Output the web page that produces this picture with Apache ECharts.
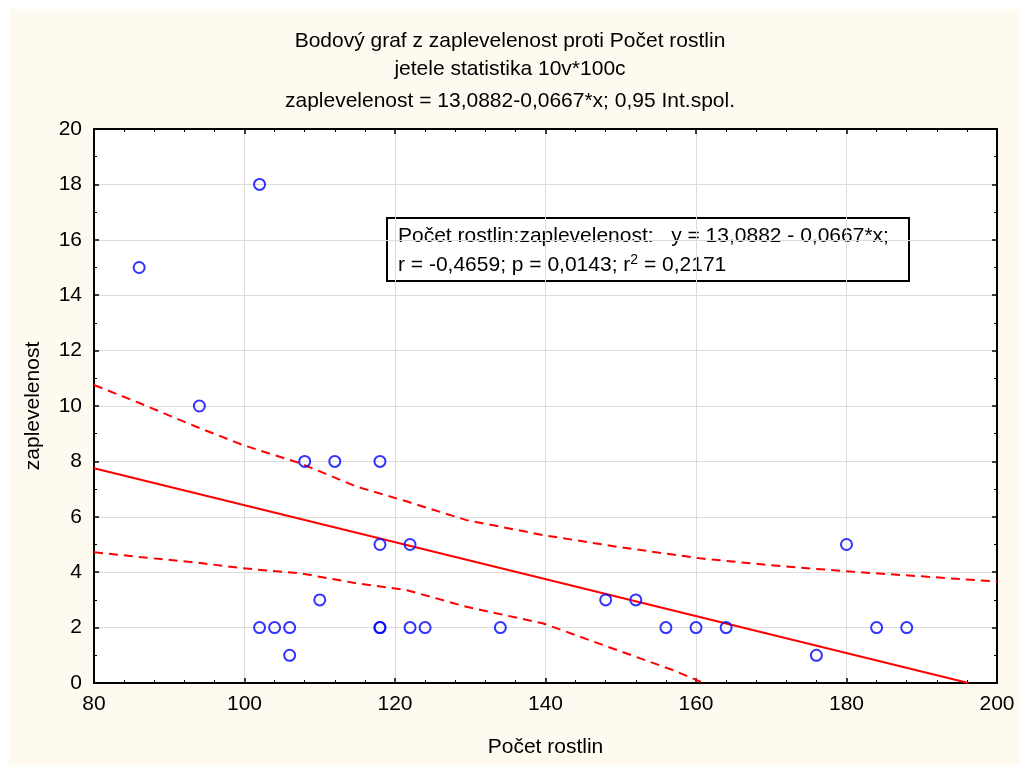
<!DOCTYPE html>
<html>
<head>
<meta charset="utf-8">
<script src="https://cdn.jsdelivr.net/npm/echarts@6/dist/echarts.min.js"></script>
<style>
html,body{margin:0;padding:0;background:#fff;}
#main{width:1020px;height:765px;background:linear-gradient(#fffaf0,#fffaf0) 9px 9px / 100% 100% no-repeat, #ffffff;}
</style>
</head>
<body>
<div id="main"></div>
<script>
// ---- data ----
var titleLines = [
  'Bodový graf z zaplevelenost proti Počet rostlin',
  'jetele statistika 10v*100c',
  'zaplevelenost = 13,0882-0,0667*x; 0,95 Int.spol.'
];
var xName = 'Počet rostlin';
var yName = 'zaplevelenost';
var annotLine1 = 'Počet rostlin:zaplevelenost:   y = 13,0882 - 0,0667*x;';
var annotLine2 = ['r = -0,4659; p = 0,0143; r', '2', ' = 0,2171'];

var pocetRostlin = [86, 102, 94, 108, 112, 118, 118, 122, 102, 104, 106, 106, 110, 118, 118, 122, 124, 134, 148, 152, 156, 160, 164, 176, 180, 184, 188];
var zaplevelenost = [15, 18, 10, 8, 8, 8, 5, 5, 2, 2, 2, 1, 3, 2, 2, 2, 2, 2, 3, 3, 2, 2, 2, 1, 5, 2, 2];

var regX = [80, 196.2];
var regY = [7.75, 0];

var upperX = [80, 86.1, 93.6, 99.8, 107.4, 114.9, 121.6, 129.5, 139.7, 149.5, 160.5, 170, 179.6, 190, 200];
var upperY = [10.76, 10.1, 9.25, 8.59, 7.93, 7.09, 6.55, 5.88, 5.34, 4.92, 4.5, 4.25, 4.04, 3.85, 3.66];

var lowerX = [80, 86, 93.6, 99.8, 107.4, 114.9, 121.6, 129.5, 139.7, 149.5, 156.9, 161];
var lowerY = [4.72, 4.55, 4.35, 4.14, 3.96, 3.6, 3.35, 2.75, 2.15, 1.19, 0.47, 0];

var xTicks = {min: 80, max: 200, step: 20};
var yTicks = {min: 0, max: 20, step: 2};

function zip(a, b) { return a.map(function (v, i) { return [v, b[i]]; }); }

var FONT = '"Liberation Sans", Arial, sans-serif';
var FS = 21;
var chart = echarts.init(document.getElementById('main'));

var baseAxis = {
  type: 'value',
  axisLine: {show: true, onZero: false, lineStyle: {color: '#000', width: 2}},
  axisTick: {show: true, inside: true, length: 5, lineStyle: {color: '#000', width: 1.5}},
  minorTick: {show: true, length: 3, lineStyle: {color: '#000', width: 1}},
  splitLine: {show: false}
};

var titleStyle = {fontFamily: FONT, fontSize: FS, fontWeight: 'normal', color: '#000'};

var option = {
  animation: false,
  title: [
    {text: titleLines[0], left: 'center', top: 26, textStyle: titleStyle},
    {text: titleLines[1], left: 'center', top: 54, textStyle: titleStyle},
    {text: titleLines[2], left: 'center', top: 86, textStyle: titleStyle}
  ],
  grid: {left: 94, right: 23, top: 129, bottom: 82, show: true, backgroundColor: '#ffffff', borderColor: '#000', borderWidth: 2},
  xAxis: [
    Object.assign({}, baseAxis, {
      min: xTicks.min, max: xTicks.max, interval: xTicks.step, position: 'bottom',
      minorTick: Object.assign({}, baseAxis.minorTick, {splitNumber: 5}),
      splitLine: {show: true, lineStyle: {color: '#dcdcdc', width: 1}},
      axisLabel: {fontFamily: FONT, fontSize: FS, color: '#000', margin: 11},
      name: xName, nameLocation: 'middle', nameGap: 54,
      nameTextStyle: {fontFamily: FONT, fontSize: FS, color: '#000'}
    }),
    Object.assign({}, baseAxis, {
      min: xTicks.min, max: xTicks.max, interval: xTicks.step, position: 'top',
      minorTick: Object.assign({}, baseAxis.minorTick, {splitNumber: 5}),
      axisLabel: {show: false}
    })
  ],
  yAxis: [
    Object.assign({}, baseAxis, {
      min: yTicks.min, max: yTicks.max, interval: yTicks.step, position: 'left',
      minorTick: Object.assign({}, baseAxis.minorTick, {splitNumber: 2}),
      splitLine: {show: true, lineStyle: {color: '#dcdcdc', width: 1}},
      axisLabel: {fontFamily: FONT, fontSize: FS, color: '#000', margin: 12},
      name: yName, nameLocation: 'middle', nameGap: 50, nameRotate: 90,
      nameTextStyle: {fontFamily: FONT, fontSize: FS, color: '#000'}
    }),
    Object.assign({}, baseAxis, {
      min: yTicks.min, max: yTicks.max, interval: yTicks.step, position: 'right',
      minorTick: Object.assign({}, baseAxis.minorTick, {splitNumber: 2}),
      axisLabel: {show: false}
    })
  ],
  series: [
    {
      type: 'line', data: zip(upperX, upperY), showSymbol: false, symbol: 'none', smooth: false,
      lineStyle: {color: '#ff0000', width: 2, type: [9, 6]}, z: 2
    },
    {
      type: 'line', data: zip(lowerX, lowerY), showSymbol: false, symbol: 'none',
      lineStyle: {color: '#ff0000', width: 2, type: [9, 6]}, z: 2
    },
    {
      type: 'line', data: zip(regX, regY), showSymbol: false, symbol: 'none',
      lineStyle: {color: '#ff0000', width: 2}, z: 3
    },
    {
      type: 'scatter', data: zip(pocetRostlin, zaplevelenost), symbol: 'circle', symbolSize: 11,
      itemStyle: {color: 'rgba(255,255,255,0)', borderColor: '#0000ff', borderWidth: 2}, z: 4
    }
  ],
  graphic: [
    {
      type: 'group', left: 386, top: 217, z: 100,
      children: [
        {type: 'rect', shape: {x: 0, y: 0, width: 522, height: 63}, style: {fill: '#ffffff', stroke: '#000', lineWidth: 2}},
        {type: 'text', x: 11, y: 18, style: {text: annotLine1, font: FS + 'px ' + FONT, fill: '#000', verticalAlign: 'middle'}},
        {type: 'text', x: 11, y: 47, style: {
          text: '{a|' + annotLine2[0] + '}{s|' + annotLine2[1] + '}{a|' + annotLine2[2] + '}',
          verticalAlign: 'middle',
          rich: {
            a: {fontFamily: FONT, fontSize: FS, fill: '#000', color: '#000'},
            s: {fontFamily: FONT, fontSize: 14, fill: '#000', color: '#000', verticalAlign: 'top', padding: [0, 0, 9, 0]}
          }
        }}
      ]
    }
  ]
};
chart.setOption(option);
</script>
</body>
</html>
